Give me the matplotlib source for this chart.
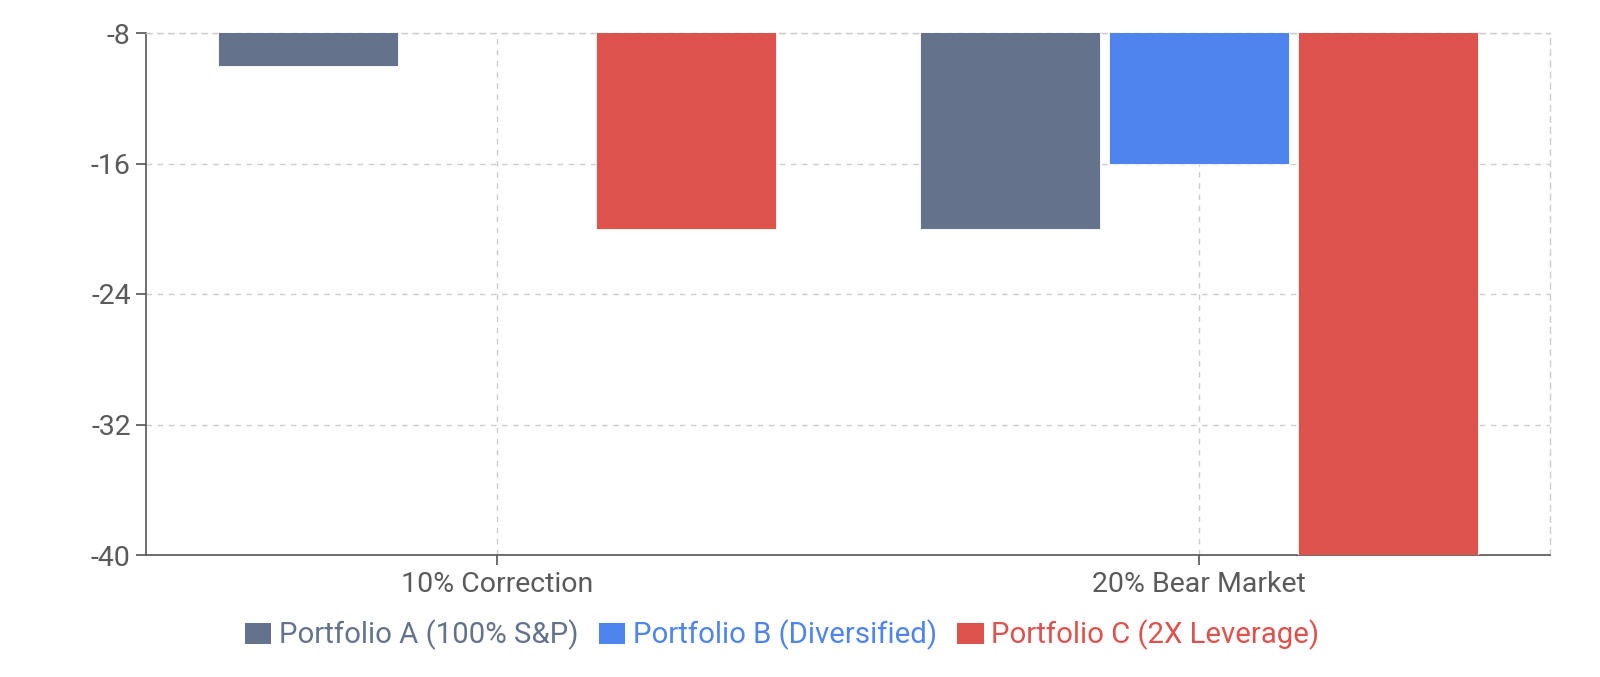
import matplotlib
matplotlib.use("Agg")
import matplotlib.pyplot as plt
from matplotlib.patches import Patch
import numpy as np

categories = ["10% Correction", "20% Bear Market"]
series_names = ["Portfolio A (100% S&P)", "Portfolio B (Diversified)", "Portfolio C (2X Leverage)"]
portfolio_a = [-10, -20]
portfolio_b = [-5, -16]
portfolio_c = [-20, -40]
y_ticks = [-8, -16, -24, -32, -40]

colors = ["#64738b", "#4f83ee", "#de524d"]

plt.rcParams['font.family'] = ['Roboto', 'DejaVu Sans']

fig = plt.figure(figsize=(16, 6.77), dpi=100)
W, H = 1600, 677
ax = fig.add_axes([146 / W, 1 - 555 / H, (1550 - 146) / W, (555 - 33) / H])

x = np.arange(len(categories))
width = 0.257
offsets = [-0.269, 0.0, 0.269]
for vals, off, col in zip([portfolio_a, portfolio_b, portfolio_c], offsets, colors):
    ax.bar(x + off, vals, width=width, color=col, edgecolor='white', linewidth=0.6, zorder=3)

ax.set_xlim(-0.5, 1.5)
ax.set_ylim(-40, -8)
ax.set_yticks(y_ticks)
ax.set_yticklabels([str(v) for v in y_ticks])
ax.set_xticks(x)
ax.set_xticklabels(categories)

ax.grid(True, color='#cccccc', linestyle=(0, (4, 4)), linewidth=1.0, zorder=0)
for side in ['top', 'right']:
    ax.spines[side].set_color('#cccccc')
    ax.spines[side].set_linestyle((0, (4, 4)))
    ax.spines[side].set_linewidth(1.0)
for side in ['left', 'bottom']:
    ax.spines[side].set_color('#555555')
    ax.spines[side].set_linewidth(1.2)

ax.tick_params(axis='both', colors='#555555', labelcolor='#5a5a5a', labelsize=20.5, length=7, width=1.2)
ax.tick_params(axis='x', pad=4.5)
ax.tick_params(axis='y', pad=4)

handles = [Patch(facecolor=c, edgecolor='none') for c in colors]
leg = fig.legend(handles, series_names, loc='center', bbox_to_anchor=(782 / W, 1 - 635 / H), ncol=3,
                 frameon=False, fontsize=21.2, handlelength=0.9, handleheight=0.7,
                 handletextpad=0.25, columnspacing=0.7)
for t, c in zip(leg.get_texts(), colors):
    t.set_color(c)

fig.savefig("out.png", dpi=100)
